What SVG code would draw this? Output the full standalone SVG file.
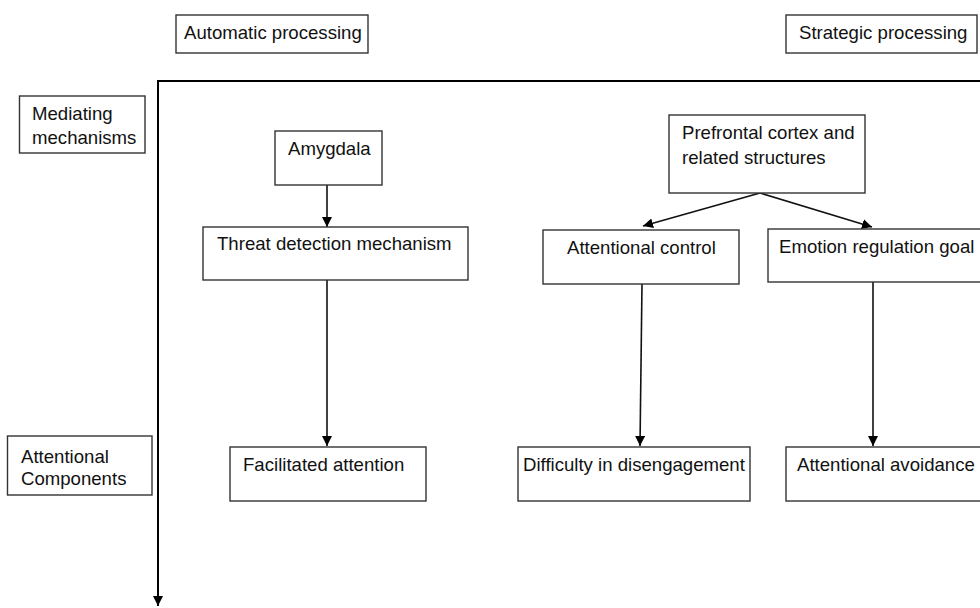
<svg xmlns="http://www.w3.org/2000/svg" width="980" height="608" viewBox="0 0 980 608">
<defs>
<style>
.box{fill:#fff;stroke:#333;stroke-width:1.4}
.t{font-family:"Liberation Sans",Arial,sans-serif;font-size:18.6px;fill:#111}
.axis{stroke:#000;stroke-width:2;fill:none}
.edge{stroke:#111;stroke-width:1.6;fill:none;marker-end:url(#ah)}
</style>
<marker id="ah" viewBox="0 0 10 10" refX="10" refY="5" markerWidth="10" markerHeight="10" markerUnits="userSpaceOnUse" orient="auto">
<path d="M0,0 L10,5 L0,10 Z" fill="#000"/>
</marker>
<marker id="axh" viewBox="0 0 10 10" refX="10" refY="5" markerWidth="10" markerHeight="10" markerUnits="userSpaceOnUse" orient="auto">
<path d="M0,0 L10,5 L0,10 Z" fill="#000"/>
</marker>
</defs>
<rect width="980" height="608" fill="#fff"/>
<g id="axes">
<path class="axis" d="M990,81 L158,81 L158,606" marker-end="url(#axh)"/>
</g>
<g id="connectors">
<path class="edge" d="M327,185 L327,227"/>
<path class="edge" d="M327,280 L327,446"/>
<path class="edge" d="M760,193 L643,226"/>
<path class="edge" d="M760,193 L872,227"/>
<path class="edge" d="M642,284 L640,446"/>
<path class="edge" d="M873,282 L873,446"/>
</g>
<g id="automatic-processing">
<rect class="box" x="176" y="15" width="192" height="38"/>
<text class="t" x="184" y="39">Automatic processing</text>
</g>
<g id="strategic-processing">
<rect class="box" x="786" y="15" width="191" height="38"/>
<text class="t" x="799" y="39">Strategic processing</text>
</g>
<g id="mediating-mechanisms">
<rect class="box" x="19.5" y="96" width="125.5" height="57"/>
<text class="t" x="32" y="119.5">Mediating</text>
<text class="t" x="32" y="143.5">mechanisms</text>
</g>
<g id="attentional-components">
<rect class="box" x="7.5" y="436" width="144.5" height="59"/>
<text class="t" x="21" y="462.5">Attentional</text>
<text class="t" x="21" y="484.5">Components</text>
</g>
<g id="amygdala">
<rect class="box" x="275" y="131" width="107" height="54"/>
<text class="t" x="288" y="155">Amygdala</text>
</g>
<g id="threat-detection">
<rect class="box" x="203" y="227" width="265" height="53"/>
<text class="t" x="217" y="250">Threat detection mechanism</text>
</g>
<g id="prefrontal">
<rect class="box" x="669" y="115" width="196" height="78"/>
<text class="t" x="682" y="138.5">Prefrontal cortex and</text>
<text class="t" x="682" y="163.5">related structures</text>
</g>
<g id="attentional-control">
<rect class="box" x="543" y="230" width="196" height="54"/>
<text class="t" x="567" y="254">Attentional control</text>
</g>
<g id="emotion-regulation">
<rect class="box" x="768" y="229" width="230" height="53"/>
<text class="t" x="779" y="252.5">Emotion regulation goal</text>
</g>
<g id="facilitated-attention">
<rect class="box" x="230" y="447" width="196" height="54"/>
<text class="t" x="243" y="471">Facilitated attention</text>
</g>
<g id="difficulty-disengagement">
<rect class="box" x="518" y="447" width="232" height="54"/>
<text class="t" x="523" y="471">Difficulty in disengagement</text>
</g>
<g id="attentional-avoidance">
<rect class="box" x="786" y="447" width="212" height="54"/>
<text class="t" x="797" y="471">Attentional avoidance</text>
</g>
</svg>
